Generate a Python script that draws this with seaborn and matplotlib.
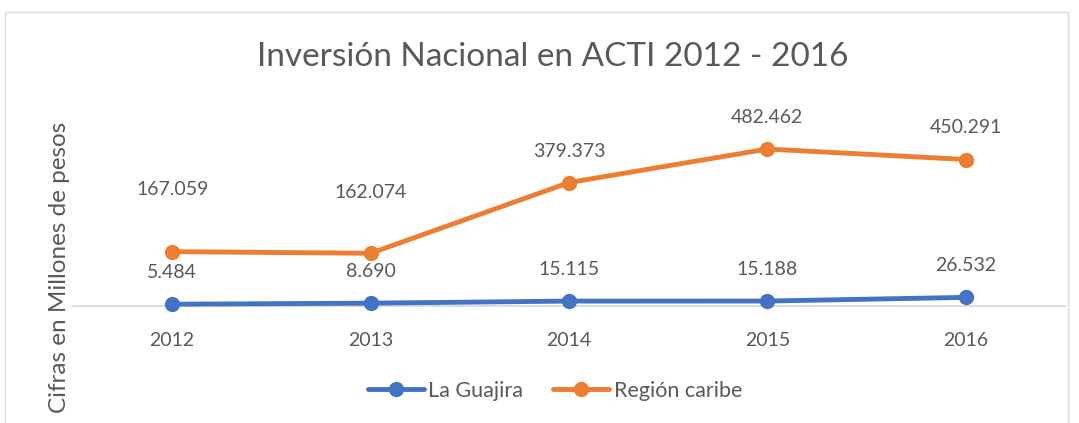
import matplotlib
matplotlib.use("Agg")
import matplotlib.pyplot as plt
from matplotlib.lines import Line2D
import pandas as pd
import seaborn as sns

# Data (cifras en millones de pesos)
years = [2012, 2013, 2014, 2015, 2016]
guajira = [5484, 8690, 15115, 15188, 26532]
caribe = [167059, 162074, 379373, 482462, 450291]
series_names = ["La Guajira", "Región caribe"]

BLUE = "#4472C4"
ORANGE = "#ED7D31"
TEXT = "#595959"

df = pd.DataFrame({
    "year": years * 2,
    "value": [v / 1000 for v in guajira + caribe],
    "serie": [series_names[0]] * len(years) + [series_names[1]] * len(years),
})

sns.set_theme(style="white")
plt.rcParams["font.family"] = ["Lato", "DejaVu Sans"]

W, H = 1079, 423
fig = plt.figure(figsize=(W / 100, H / 100), dpi=100)
ax = fig.add_axes([73 / W, 1 - 306 / H, (1065 - 73) / W, 195.2 / H])

sns.lineplot(data=df, x="year", y="value", hue="serie", palette=[BLUE, ORANGE],
             marker="o", markersize=11, markeredgewidth=0, linewidth=3.5,
             legend=False, ax=ax, clip_on=False, zorder=3)

ax.set_xlim(2011.5, 2016.5)
ax.set_ylim(0, 600)
ax.set_xticks(years)
ax.set_xticklabels([str(y) for y in years])
ax.set_yticks([])
ax.set_xlabel("")
ax.set_ylabel("")
for s in ["top", "right", "left"]:
    ax.spines[s].set_visible(False)
ax.spines["bottom"].set_color("#D9D9D9")
ax.spines["bottom"].set_linewidth(1.3)
ax.tick_params(axis="x", length=0, pad=19, labelsize=14, labelcolor=TEXT)


def fmt(v):
    return f"{v:,}".replace(",", ".")


# data labels (pixel offsets above each point)
caribe_offsets = [62, 61, 31, 32, 32]
for i, y in enumerate(years):
    ax.annotate(fmt(guajira[i]), (y, guajira[i] / 1000), xytext=(0, 32),
                textcoords="offset pixels", ha="center", va="center",
                fontsize=14, color=TEXT)
    ax.annotate(fmt(caribe[i]), (y, caribe[i] / 1000), xytext=(0, caribe_offsets[i]),
                textcoords="offset pixels", ha="center", va="center",
                fontsize=14, color=TEXT)

fig.text(553 / W, 1 - 57 / H, "Inversión Nacional en ACTI 2012 - 2016",
         ha="center", va="center", fontsize=24, color=TEXT)
fig.text(60 / W, 1 - 267 / H, "Cifras en Millones de pesos", rotation=90,
         ha="center", va="center", fontsize=17.5, color=TEXT)

handles = [Line2D([], [], color=c, linewidth=3.5, marker="o", markersize=11,
                  markeredgewidth=0) for c in (BLUE, ORANGE)]
fig.legend(handles, series_names, loc="center", bbox_to_anchor=(555 / W, 1 - 391 / H),
           ncol=2, frameon=False, fontsize=15.5, labelcolor=TEXT, handlelength=2.6,
           handletextpad=0.2, columnspacing=1.4)

# chart frame
fc = "#D9D9D9"
x0, x1, yt = 5 / W, 1068 / W, 1 - 12 / H
fig.add_artist(Line2D([x0, x1], [yt, yt], color=fc, linewidth=1, transform=fig.transFigure))
fig.add_artist(Line2D([x0, x0], [0, yt], color=fc, linewidth=1, transform=fig.transFigure))
fig.add_artist(Line2D([x1, x1], [0, yt], color=fc, linewidth=1, transform=fig.transFigure))

fig.savefig("out.png", dpi=100)
